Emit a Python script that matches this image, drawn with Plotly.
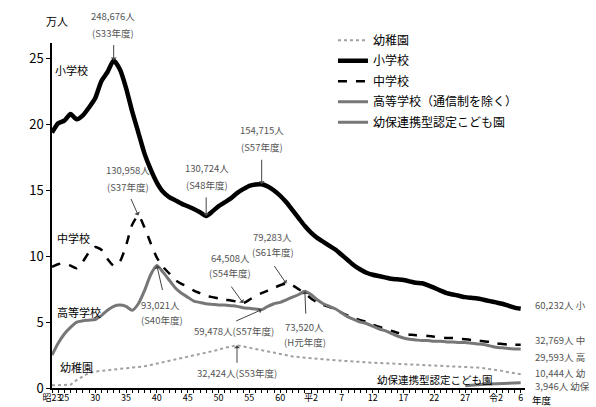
import plotly.graph_objects as go

years = list(range(1948, 2025))

elementary = [19.4, 20.1, 20.3, 20.8, 20.4, 20.7, 21.3, 22.0, 23.3, 24.0,
              24.87, 24.2, 22.8, 21.0, 19.4, 17.8, 16.6, 15.6, 14.9, 14.5,
              14.25, 14.0, 13.8, 13.6, 13.35, 13.07, 13.4, 13.8, 14.1, 14.4,
              14.8, 15.1, 15.35, 15.45, 15.47, 15.3, 15.0, 14.6, 14.1, 13.5,
              12.9, 12.3, 11.8, 11.4, 11.1, 10.8, 10.5, 10.1, 9.7, 9.3,
              9.0, 8.75, 8.6, 8.5, 8.4, 8.3, 8.25, 8.2, 8.1, 8.0,
              7.95, 7.8, 7.6, 7.4, 7.2, 7.1, 7.0, 6.9, 6.85, 6.8,
              6.7, 6.6, 6.5, 6.4, 6.25, 6.1, 6.02]

junior = [9.2, 9.4, 9.5, 9.3, 9.1, 9.6, 10.3, 10.7, 10.5, 9.8,
          9.3, 9.6, 10.8, 12.4, 13.1, 12.2, 11.0, 9.9, 9.2, 8.7,
          8.2, 7.9, 7.7, 7.4, 7.2, 7.0, 6.9, 6.8, 6.7, 6.65,
          6.55, 6.45, 6.7, 7.0, 7.2, 7.4, 7.6, 7.8, 7.93, 7.8,
          7.5, 7.2, 6.8, 6.5, 6.3, 6.15, 5.95, 5.7, 5.5, 5.3,
          5.15, 5.0, 4.8, 4.65, 4.5, 4.35, 4.2, 4.1, 4.05, 4.0,
          4.0, 3.95, 3.9, 3.85, 3.8, 3.8, 3.75, 3.7, 3.65, 3.6,
          3.55, 3.5, 3.4, 3.35, 3.3, 3.28, 3.28]

high = [2.5, 3.4, 4.1, 4.6, 5.0, 5.1, 5.15, 5.2, 5.5, 5.9,
        6.2, 6.3, 6.2, 5.9, 6.4, 7.4, 8.6, 9.3, 8.8, 8.2,
        7.6, 7.2, 6.9, 6.6, 6.5, 6.4, 6.35, 6.3, 6.3, 6.25,
        6.2, 6.1, 6.05, 6.0, 5.95, 6.2, 6.4, 6.5, 6.7, 6.9,
        7.1, 7.35, 7.1, 6.7, 6.4, 6.2, 6.0, 5.7, 5.4, 5.2,
        5.0, 4.9, 4.7, 4.5, 4.35, 4.15, 3.95, 3.8, 3.7, 3.65,
        3.6, 3.6, 3.55, 3.55, 3.5, 3.5, 3.45, 3.45, 3.4, 3.35,
        3.3, 3.2, 3.1, 3.05, 3.0, 2.97, 2.96]

kindergarten = [0.2, 0.2, 0.2, 0.25, 0.6, 0.9, 1.15, 1.25, 1.3, 1.3,
                1.35, 1.4, 1.45, 1.5, 1.55, 1.65, 1.75, 1.85, 1.95, 2.05,
                2.15, 2.25, 2.35, 2.45, 2.55, 2.65, 2.8, 2.9, 3.05, 3.15,
                3.24, 3.15, 3.05, 2.95, 2.85, 2.75, 2.65, 2.55, 2.45, 2.4,
                2.35, 2.3, 2.25, 2.2, 2.17, 2.13, 2.1, 2.07, 2.03, 2.0,
                1.97, 1.95, 1.92, 1.9, 1.88, 1.85, 1.82, 1.8, 1.78, 1.76,
                1.74, 1.72, 1.7, 1.7, 1.68, 1.67, 1.65, 1.62, 1.6, 1.55,
                1.5, 1.45, 1.4, 1.3, 1.2, 1.1, 1.04]

kodomo_years = list(range(2015, 2025))
kodomo = [0.17, 0.22, 0.26, 0.29, 0.31, 0.33, 0.35, 0.37, 0.38, 0.39]

tick_years = [1948, 1950, 1955, 1960, 1965, 1970, 1975, 1980, 1985, 1990,
              1995, 2000, 2005, 2010, 2015, 2020, 2024]
tick_labels = ["昭23", "25", "30", "35", "40", "45", "50", "55", "60", "平2",
               "7", "12", "17", "22", "27", "令2", "6"]

X_RANGE = [1948, 2024.7]
Y_RANGE = [0, 26.2]

FONT = "Noto Sans CJK JP"
GRAY = "#777777"
TXT = "#555555"

fig = go.Figure()
fig.add_trace(go.Scatter(x=years, y=kindergarten, mode="lines", name="幼稚園", legendgroup="a",
                         line=dict(color="#a0a0a0", width=2, dash="dot")))
fig.add_trace(go.Scatter(x=years, y=elementary, mode="lines", name="小学校", legendgroup="b",
                         line=dict(color="black", width=4.5, shape="spline", smoothing=0.6)))
fig.add_trace(go.Scatter(x=years, y=junior, mode="lines", name="中学校", legendgroup="c",
                         line=dict(color="black", width=2.5, dash="dash", shape="spline", smoothing=0.6)))
fig.add_trace(go.Scatter(x=years, y=high, mode="lines", name="高等学校（通信制を除く）", legendgroup="d",
                         line=dict(color=GRAY, width=3, shape="spline", smoothing=0.6)))
fig.add_trace(go.Scatter(x=kodomo_years, y=kodomo, mode="lines", name="幼保連携型認定こども園", legendgroup="e",
                         line=dict(color=GRAY, width=3)))

ann = []

def px(x):
    return (x - X_RANGE[0]) / (X_RANGE[1] - X_RANGE[0])

def py(y):
    return (y - Y_RANGE[0]) / (Y_RANGE[1] - Y_RANGE[0])

def text(x, y, t, size=9.5, color=TXT, xanchor="center", weight="normal"):
    ann.append(dict(x=px(x), y=py(y), xref="paper", yref="paper", text=t, showarrow=False,
                    xanchor=xanchor, yanchor="middle",
                    font=dict(family=FONT, size=size, color=color, weight=weight)))

def arrow(x, y, ax, ay):
    ann.append(dict(x=x, y=y, xref="x", yref="y", text="", showarrow=True,
                    ax=ax, ay=ay, arrowhead=1, arrowsize=1, arrowwidth=1,
                    arrowcolor="#444444", standoff=0))

# peak / trough annotations
text(1957.9, 28.25, "248,676人"); text(1957.9, 26.96, "(S33年度)")
arrow(1958, elementary[1958 - 1948], 0, -17)
text(1960.3, 16.56, "130,958人"); text(1960.3, 15.26, "(S37年度)")
arrow(1962, junior[1962 - 1948], -8, -18)
text(1973.1, 16.7, "130,724人"); text(1973.1, 15.4, "(S48年度)")
arrow(1973, elementary[1973 - 1948], 0, -20)
text(1982.05, 19.6, "154,715人"); text(1982.05, 18.3, "(S57年度)")
arrow(1982, elementary[1982 - 1948], 0, -26)
text(1983.8, 11.47, "79,283人"); text(1983.8, 10.33, "(S61年度)")
arrow(1986, junior[1986 - 1948], -13, -19)
text(1976.9, 9.87, "64,508人"); text(1976.9, 8.73, "(S54年度)")
arrow(1979, junior[1979 - 1948], -13, -18)
text(1965.6, 6.3, "93,021人"); text(1965.8, 5.16, "(S40年度)")
arrow(1965, high[1965 - 1948], 6, 26)
text(1977.5, 4.33, "59,478人(S57年度)")
arrow(1982, high[1982 - 1948], -27, 12)
text(1989.0, 4.63, "73,520人"); text(1989.0, 3.49, "(H元年度)")
arrow(1989, high[1989 - 1948], 1, 24)
text(1978.0, 1.14, "32,424人(S53年度)")
arrow(1978, kindergarten[1978 - 1948], 0, 19)

# series labels
text(1948.15, 24.15, "小学校", size=11, color="black", xanchor="left")
text(1948.5, 11.39, "中学校", size=11, color="black", xanchor="left")
text(1948.5, 5.77, "高等学校", size=11, color="black", xanchor="left")
text(1949.0, 1.6, "幼稚園", size=11, color="black", xanchor="left")
text(2000.4, 0.62, "幼保連携型認定こども園", size=10.5, color="black", xanchor="left")

# end values
text(2026.0, 6.3, "60,232人 小", xanchor="left")
text(2026.0, 3.65, "32,769人 中", xanchor="left")
text(2026.0, 2.35, "29,593人 高", xanchor="left")
text(2026.0, 1.14, "10,444人 幼", xanchor="left")
text(2026.0, 0.15, "3,946人 幼保", xanchor="left")

# unit labels
text(1948.8, 27.87, "万人", size=11, color="black")
text(2027.5, -0.9, "年度", size=9.5, color="black")

fig.update_layout(
    width=596, height=407,
    margin=dict(l=52, r=71, t=43, b=19, autoexpand=False),
    paper_bgcolor="white", plot_bgcolor="white",
    font=dict(family=FONT, color="black"),
    showlegend=True,
    legend=dict(x=0.594, y=1.05, xanchor="left", yanchor="top",
                bgcolor="rgba(0,0,0,0)", itemwidth=30, traceorder="grouped",
                font=dict(family=FONT, size=12, color="black"),
                tracegroupgap=1.5),
    annotations=ann,
)
fig.update_xaxes(range=X_RANGE, showgrid=False, zeroline=False, automargin=False,
                 showline=True, linecolor="black", linewidth=1.5, tickangle=0,
                 tickvals=tick_years, ticktext=tick_labels,
                 ticks="outside", ticklen=3, tickcolor="black", ticklabelstandoff=-3,
                 minor=dict(dtick=1, ticks="outside", ticklen=3, tickcolor="black"),
                 tickfont=dict(family=FONT, size=9, color="black"))
fig.update_yaxes(range=Y_RANGE, showgrid=False, zeroline=False, automargin=False,
                 showline=True, linecolor="black", linewidth=1.5,
                 tickvals=[0, 5, 10, 15, 20, 25],
                 ticks="outside", ticklen=4, tickcolor="black",
                 tickfont=dict(family=FONT, size=13, color="black"))

fig.write_html("out.html", config={"displayModeBar": False},
               post_script="document.body.style.margin='0';document.body.style.overflow='hidden';")
